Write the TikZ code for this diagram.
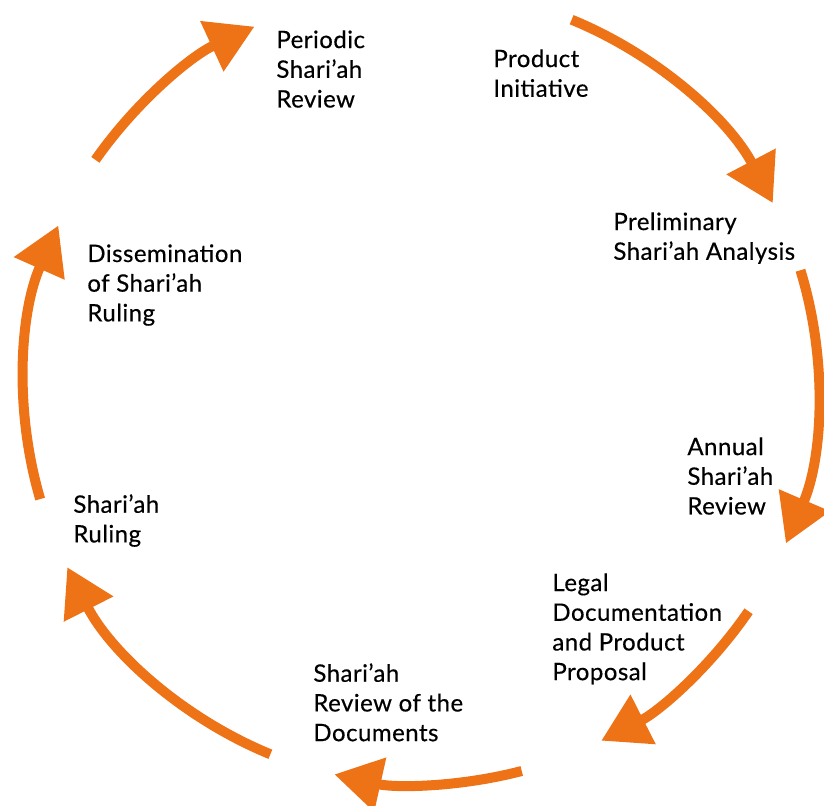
\documentclass[tikz,border=0pt]{standalone}
\usepackage{fontspec}
\setmainfont{Lato}
\newfontfamily\stagefont{Lato}[FakeBold=0.4,LetterSpace=2]
\usetikzlibrary{arrows.meta}
\definecolor{cycleorange}{RGB}{238,114,22}
\tikzset{
  stage/.style={anchor=north west,inner sep=0pt,align=left,
    font=\stagefont\fontsize{12}{14.85}\selectfont},
  cyclearrow/.style={cycleorange,line width=5pt,
    -{Triangle[length=23.5pt,width=26.5pt]}}
}
\begin{document}
\begin{tikzpicture}[x=0.5pt,y=0.5pt]
  \useasboundingbox (0,0) rectangle (824,806);
  \coordinate (c) at (421,419);
  % stages, clockwise from the top
  \node[stage] (product) at (493,757) {Product\\Initiative};
  \node[stage] (prelim) at (613,594) {Preliminary\\Shari’ah Analysis};
  \node[stage] (annual) at (687,369) {Annual\\Shari’ah\\Review};
  \node[stage] (legal) at (552,233) {Legal\\Documentation\\and Product\\Proposal};
  \node[stage] (docs) at (313,143) {Shari’ah\\Review of the\\Documents};
  \node[stage] (ruling) at (73,312) {Shari’ah\\Ruling};
  \node[stage] (dissem) at (87,562) {Dissemination\\of Shari’ah\\Ruling};
  \node[stage] (periodic) at (276,776) {Periodic\\Shari’ah\\Review};
  % arcs of the cycle
  \draw[cyclearrow] ([shift={(67.7:397)}]c) arc (67.7:27.6:397);
  \draw[cyclearrow] ([shift={(17.1:397)}]c) arc (17.1:-23.2:397);
  \draw[cyclearrow] ([shift={(-34.4:397)}]c) arc (-34.4:-63:397);
  \draw[cyclearrow] ([shift={(-75.3:397)}]c) arc (-75.3:-102.6:397);
  \draw[cyclearrow] ([shift={(-112.3:397)}]c) arc (-112.3:-153:397);
  \draw[cyclearrow] ([shift={(196.4:397)}]c) arc (196.4:156:397);
  \draw[cyclearrow] ([shift={(145.1:397)}]c) arc (145.1:114.8:397);
\end{tikzpicture}
\end{document}
